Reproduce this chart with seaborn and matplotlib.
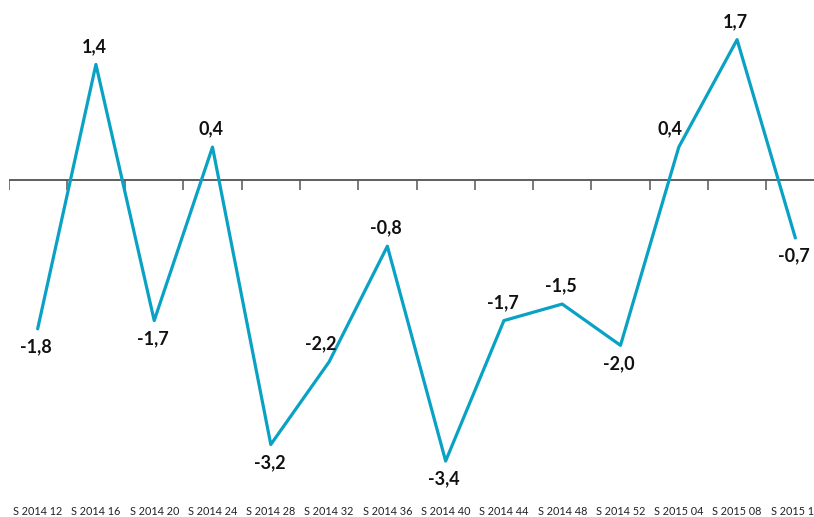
import numpy as np
import pandas as pd
import matplotlib
matplotlib.use("Agg")
import matplotlib.pyplot as plt
import seaborn as sns

# -----------------------------
# Data
# -----------------------------
weeks = ["S 2014 12", "S 2014 16", "S 2014 20", "S 2014 24", "S 2014 28",
         "S 2014 32", "S 2014 36", "S 2014 40", "S 2014 44", "S 2014 48",
         "S 2014 52", "S 2015 04", "S 2015 08", "S 2015 12"]
values = [-1.8, 1.4, -1.7, 0.4, -3.2, -2.2, -0.8, -3.4, -1.7, -1.5, -2.0, 0.4, 1.7, -0.7]

# where each value label sits relative to its point
label_side = ["below", "above", "below", "above", "below", "above_left", "above",
              "below", "above", "above", "below", "above_left", "above", "below"]

df = pd.DataFrame({"pos": np.arange(len(weeks)), "value": values})

# -----------------------------
# Plot
# -----------------------------
sns.set_style("white")
plt.rcParams["font.family"] = ["Lato", "DejaVu Sans"]

fig = plt.figure(figsize=(8.14, 5.17), dpi=100)
ax = fig.add_axes([8.5 / 814, 13 / 517, 816 / 814, 504 / 517])

sns.lineplot(data=df, x="pos", y="value", color="#0AA2C4", linewidth=2.3, ax=ax)

# zero line with tick marks between categories
ax.axhline(0, color="#333333", linewidth=1.1, zorder=1)
ax.vlines(np.arange(-0.5, len(weeks)), -0.125, 0, color="#555555", linewidth=1.1, zorder=1)

offsets = {"above": (-1, 13), "below": (-1, -13), "above_left": (-6, 13)}
for i, v in enumerate(values):
    dx, dy = offsets[label_side[i]]
    ax.annotate(f"{v:.1f}".replace(".", ","), (i, v), xytext=(dx, dy),
                textcoords="offset points", ha="center", va="center",
                fontsize=13, fontweight="bold", color="#111111")

ax.set_xlim(-0.5, len(weeks) - 0.5)
ax.set_ylim(-3.92, 2.18)
ax.set_xticks(df["pos"])
ax.set_xticklabels(weeks, fontsize=7.8, color="#222222")
ax.tick_params(axis="x", length=0, pad=1.5)
ax.set_yticks([])
ax.set_xlabel("")
ax.set_ylabel("")
for s in ax.spines.values():
    s.set_visible(False)

fig.savefig("out.png", dpi=100)
